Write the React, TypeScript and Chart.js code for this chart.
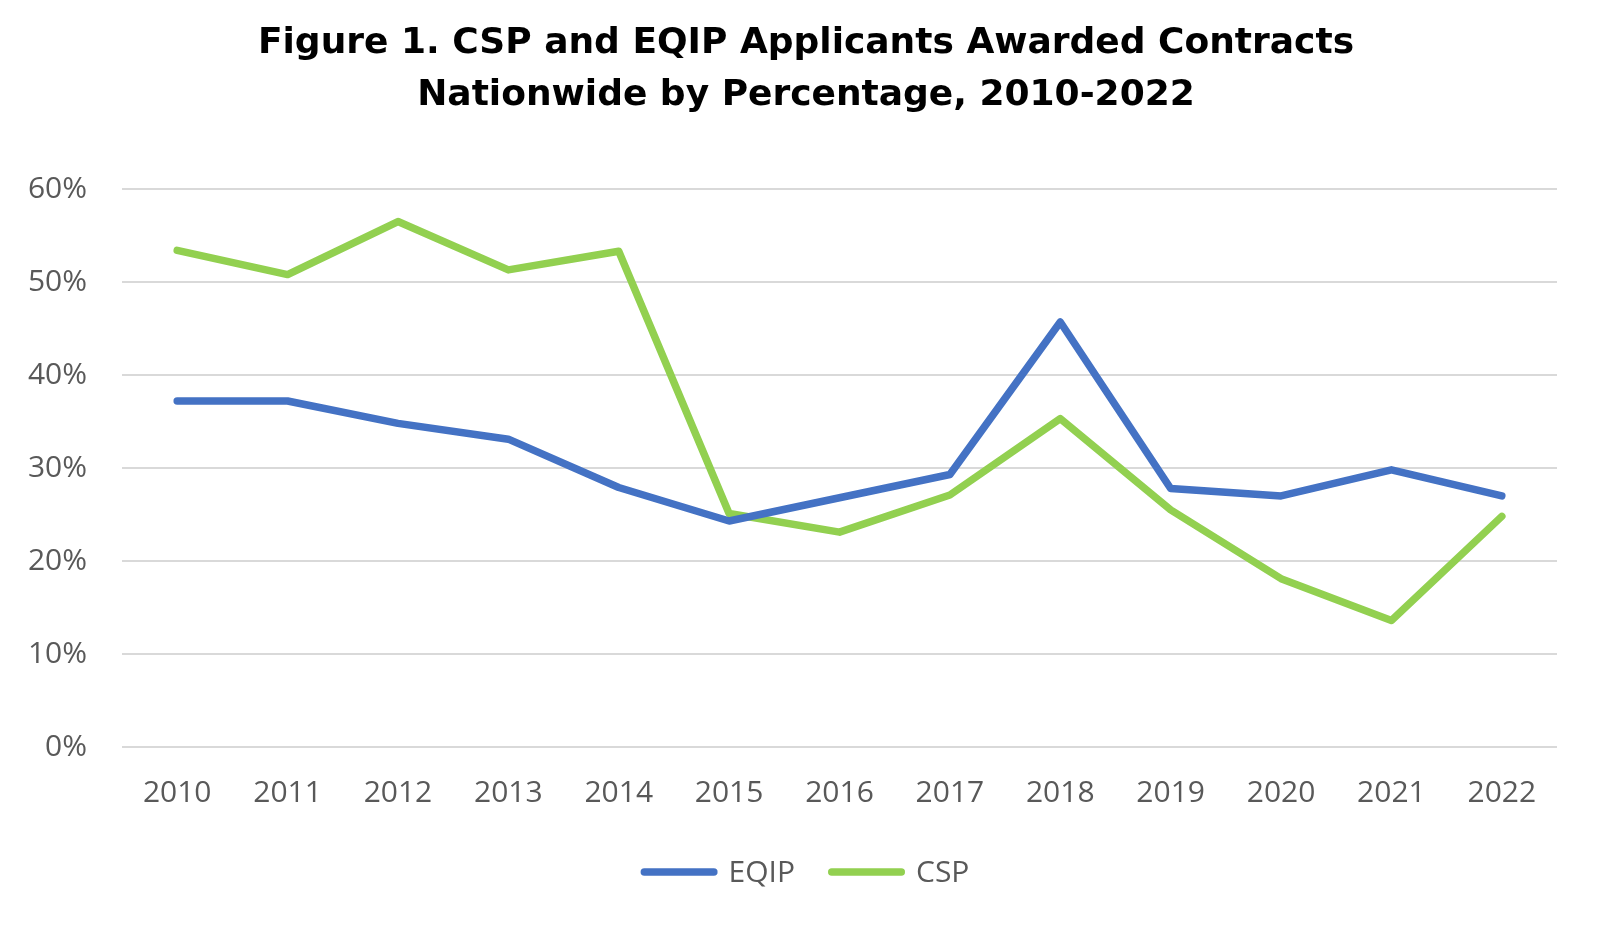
import React, { useEffect, useRef } from "react";
import { Chart, registerables } from "chart.js";

Chart.register(...registerables);

const years = ["2010", "2011", "2012", "2013", "2014", "2015", "2016", "2017", "2018", "2019", "2020", "2021", "2022"];
const eqip = [37.2, 37.2, 34.8, 33.1, 27.9, 24.3, 26.8, 29.3, 45.7, 27.8, 27.0, 29.8, 27.0];
const csp = [53.4, 50.8, 56.5, 51.3, 53.3, 25.1, 23.1, 27.1, 35.3, 25.5, 18.1, 13.6, 24.8];
const titleLines = ["Figure 1. CSP and EQIP Applicants Awarded Contracts", "Nationwide by Percentage, 2010-2022"];

const gray = "#595959";

const titleAndLegend = {
  id: "titleAndLegend",
  afterDraw(chart: any) {
    const ctx = chart.ctx;
    ctx.save();
    // title
    ctx.font = "bold 36px 'DejaVu Sans'";
    ctx.fillStyle = "#000";
    ctx.textAlign = "center";
    ctx.textBaseline = "middle";
    titleLines.forEach((line, i) => ctx.fillText(line, 806, 43.5 + i * 52));
    // legend
    const sample = 77;
    const gapText = 11;
    const gapItem = 33;
    const cy = 872;
    ctx.font = "30px 'Open Sans'";
    const items = chart.data.datasets.map((d: any) => ({ text: d.label, color: d.borderColor, lw: d.borderWidth, w: ctx.measureText(d.label).width }));
    const total = items.reduce((s: number, it: any) => s + sample + gapText + it.w, 0) + gapItem * (items.length - 1);
    let x = 805 - total / 2;
    items.forEach((it: any) => {
      ctx.beginPath();
      ctx.lineCap = "round";
      ctx.strokeStyle = it.color;
      ctx.lineWidth = it.lw;
      ctx.moveTo(x + it.lw / 2, cy);
      ctx.lineTo(x + sample - it.lw / 2, cy);
      ctx.stroke();
      ctx.fillStyle = gray;
      ctx.textAlign = "left";
      ctx.textBaseline = "middle";
      ctx.fillText(it.text, x + sample + gapText, cy + 1);
      x += sample + gapText + it.w + gapItem;
    });
    ctx.restore();
  },
};

export default function App() {
  const ref = useRef<HTMLCanvasElement | null>(null);
  useEffect(() => {
    if (!ref.current) return;
    const chart = new Chart(ref.current, {
      type: "line",
      data: {
        labels: years,
        datasets: [
          { label: "EQIP", data: eqip, borderColor: "#4472C4", backgroundColor: "#4472C4", borderWidth: 7.5, pointRadius: 0, borderCapStyle: "round", borderJoinStyle: "round", tension: 0 },
          { label: "CSP", data: csp, borderColor: "#92D050", backgroundColor: "#92D050", borderWidth: 7.5, pointRadius: 0, borderCapStyle: "round", borderJoinStyle: "round", tension: 0 },
        ],
      },
      options: {
        animation: false,
        responsive: true,
        maintainAspectRatio: false,
        layout: { padding: { left: 0, right: 43, top: 189, bottom: 84 } },
        plugins: {
          title: { display: false },
          legend: { display: false },
          tooltip: { enabled: false },
        },
        scales: {
          x: {
            offset: true,
            grid: { display: false, drawTicks: false, offset: true },
            border: { display: false },
            ticks: { color: gray, padding: 28, font: { family: "Open Sans", size: 30 }, maxRotation: 0 },
            afterFit: (s: any) => { s.height = 100; },
          },
          y: {
            min: 0,
            max: 60,
            grid: { color: "#D9D9D9", lineWidth: 2, drawTicks: false },
            border: { display: false },
            ticks: { stepSize: 10, color: gray, padding: 35, font: { family: "Open Sans", size: 30 }, callback: (v: any) => v + "%" },
            afterFit: (s: any) => { s.width = 122; },
          },
        },
      },
      plugins: [titleAndLegend],
    });
    return () => chart.destroy();
  }, []);
  return (
    <div style={{ position: "fixed", left: 0, top: 0, width: 1600, height: 931, background: "#fff" }}>
      <canvas ref={ref} />
    </div>
  );
}
